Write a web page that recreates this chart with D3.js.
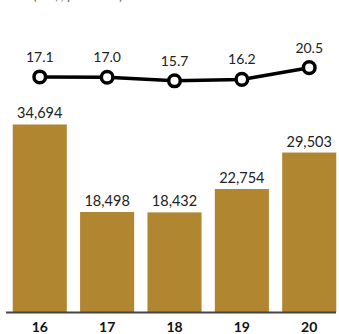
<!DOCTYPE html>
<html>
<head>
<meta charset="utf-8">
<script src="https://cdn.jsdelivr.net/npm/d3@7"></script>
<style>
  body { margin: 0; background: #fff; }
  svg text { font-family: Lato, "Open Sans", sans-serif; }
</style>
</head>
<body>
<div id="chart"></div>
<script>
const years = ['16', '17', '18', '19', '20'];
const netIncome = [34694, 18498, 18432, 22754, 29503];
const perShare = [17.1, 17.0, 15.7, 16.2, 20.5];

const width = 339;
const height = 334;

const svg = d3.select('#chart')
	.append('svg')
	.attr('width', width)
	.attr('height', height);

const xScale = d3.scaleBand()
	.domain(years)
	.range([6, 343])
	.paddingInner(0.197)
	.paddingOuter(0.1);

const yBar = d3.scaleLinear()
	.domain([0, 40000])
	.range([312, 95.8]);

const yLine = d3.scaleLinear()
	.domain([15, 21])
	.range([82.7, 66.3]);

// subtitle, mostly above the top edge
svg.append('text')
	.attr('x', 33)
	.attr('y', -0.5)
	.attr('font-size', 13)
	.attr('fill', '#666')
	.text('(US$, per share)');

// bars
svg.selectAll('rect.bar')
	.data(netIncome)
	.enter()
	.append('rect')
	.attr('class', 'bar')
	.attr('x', (d, i) => xScale(years[i]))
	.attr('y', d => yBar(d))
	.attr('width', xScale.bandwidth())
	.attr('height', d => yBar(0) - yBar(d))
	.attr('fill', '#b08631');

svg.selectAll('text.barLabel')
	.data(netIncome)
	.enter()
	.append('text')
	.attr('class', 'barLabel')
	.attr('x', (d, i) => xScale(years[i]) + xScale.bandwidth() / 2)
	.attr('y', d => yBar(d) - 6)
	.attr('text-anchor', 'middle')
	.attr('font-size', 14.5)
	.attr('fill', '#222')
	.text(d => d3.format(',')(d));

// baseline axis
svg.append('g')
	.attr('transform', `translate(0,${yBar(0) + 0.5})`)
	.call(d3.axisBottom(xScale).tickSize(0).tickPadding(10))
	.call(g => g.select('.domain')
		.attr('d', 'M6,0H336')
		.attr('stroke', '#444')
		.attr('stroke-width', 2))
	.call(g => g.selectAll('text')
		.attr('font-family', 'Lato, "Open Sans", sans-serif')
		.attr('font-size', 14)
		.attr('font-weight', 'bold')
		.attr('fill', '#111'));

// per share line
const line = d3.line()
	.x((d, i) => xScale(years[i]) + xScale.bandwidth() / 2)
	.y(d => yLine(d));

svg.append('path')
	.datum(perShare)
	.attr('d', line)
	.attr('fill', 'none')
	.attr('stroke', '#000')
	.attr('stroke-width', 3.5);

svg.selectAll('circle.dot')
	.data(perShare)
	.enter()
	.append('circle')
	.attr('class', 'dot')
	.attr('cx', (d, i) => xScale(years[i]) + xScale.bandwidth() / 2)
	.attr('cy', d => yLine(d))
	.attr('r', 5.8)
	.attr('fill', '#fff')
	.attr('stroke', '#000')
	.attr('stroke-width', 3.5);

svg.selectAll('text.lineLabel')
	.data(perShare)
	.enter()
	.append('text')
	.attr('class', 'lineLabel')
	.attr('x', (d, i) => xScale(years[i]) + xScale.bandwidth() / 2)
	.attr('y', d => yLine(d) - 15)
	.attr('text-anchor', 'middle')
	.attr('font-size', 14)
	.attr('fill', '#222')
	.text(d => d.toFixed(1));
</script>
</body>
</html>
